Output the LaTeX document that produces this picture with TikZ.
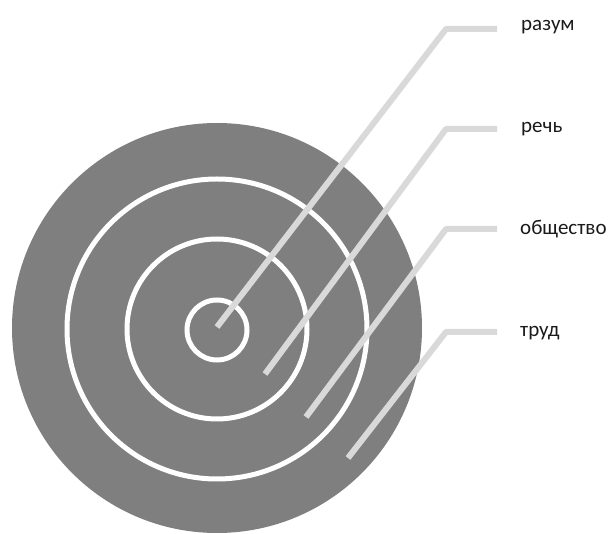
\documentclass[tikz,border=0pt]{standalone}
\usepackage{fontspec}
\setmainfont{Carlito}
\definecolor{diskgrey}{HTML}{7F7F7F}
\definecolor{leadergrey}{HTML}{D9D9D9}
\definecolor{labeltext}{HTML}{1A1A1A}
\begin{document}
\begin{tikzpicture}[x=1pt,y=-1pt,
  disk/.style={circle, fill=diskgrey, draw=none, inner sep=0pt},
  ring/.style={circle, draw=white, line width=5pt, inner sep=0pt},
  leader/.style={draw=leadergrey, line width=6pt, line join=round},
  lbl/.style={anchor=base west, inner sep=0pt, font=\fontsize{21}{25}\selectfont, text=labeltext}]
\useasboundingbox (0,0) rectangle (611,534);
\node[disk, minimum size=410pt] (disk) at (217,328) {};
\node[ring, minimum size=300pt] (ringC) at (217,329) {};
\node[ring, minimum size=180pt] (ringB) at (217,329) {};
\node[ring, minimum size=60pt] (ringA) at (217,330) {};
% labels
\node[lbl] (l1) at (521,31) {разум};
\node[lbl] (l2) at (521,133) {речь};
\node[lbl] (l3) at (520,235) {общество};
\node[lbl] (l4) at (520,337) {труд};
% leader geometry
\coordinate (e1) at (217,327); \coordinate (c1) at (446,29);  \coordinate (b1) at (497,29);
\coordinate (e2) at (265,374); \coordinate (c2) at (446,129); \coordinate (b2) at (497,129);
\coordinate (e3) at (306,417); \coordinate (c3) at (446,229); \coordinate (b3) at (497,229);
\coordinate (e4) at (348,458); \coordinate (c4) at (446,332); \coordinate (b4) at (497,332);
\draw[leader] (e1) -- (c1) -- (b1);
\draw[leader] (e2) -- (c2) -- (b2);
\draw[leader] (e3) -- (c3) -- (b3);
\draw[leader] (e4) -- (c4) -- (b4);
\end{tikzpicture}
\end{document}
